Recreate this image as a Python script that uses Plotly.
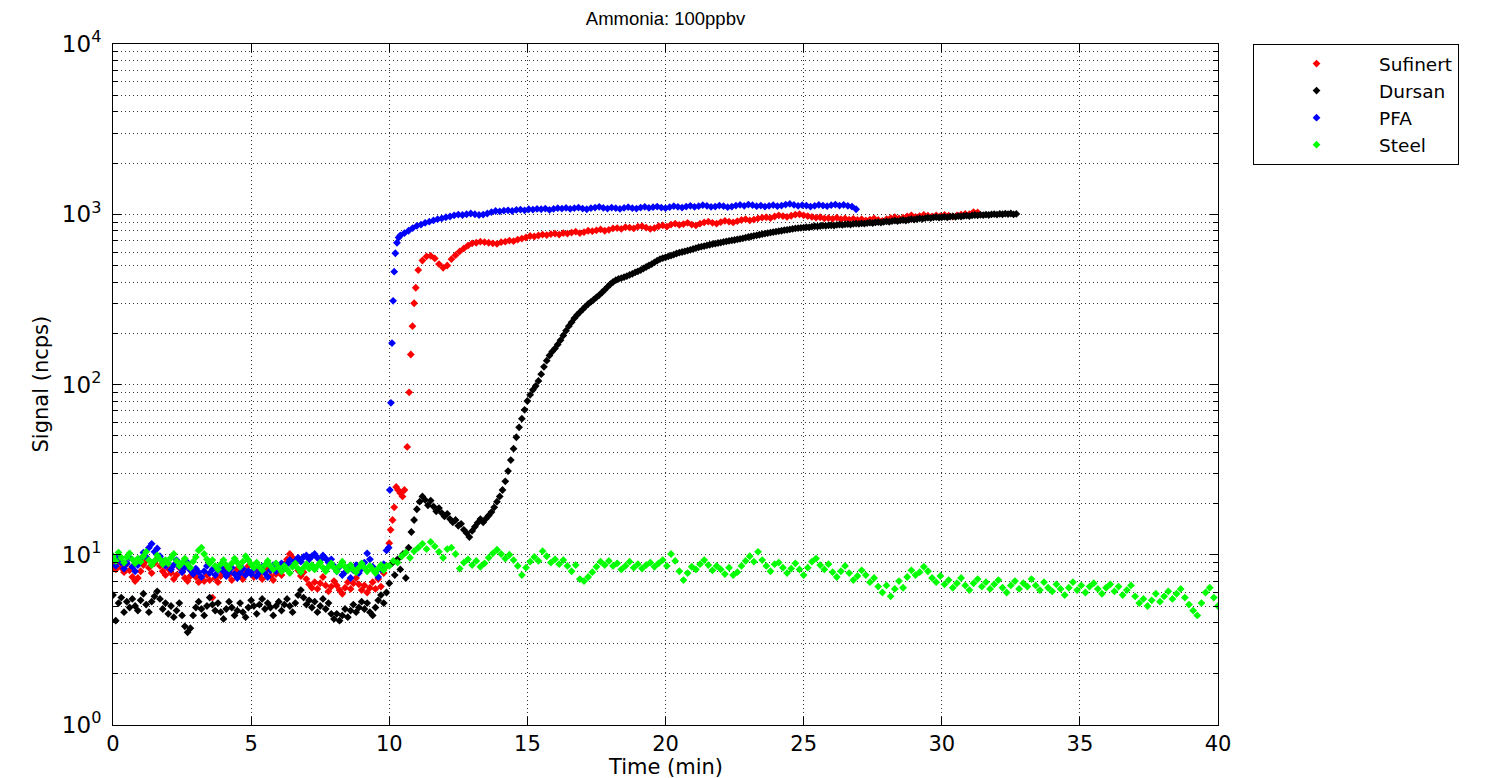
import numpy as np
import plotly.graph_objects as go

# ---------------- data ----------------
BASE_STEP = 0.1  # baseline sampling, t = 0.0 .. 9.9 min

sufinert_base = [
    8.6, 8.2, 9.0, 8.4, 7.9, 8.8, 8.1, 7.4, 7.0, 7.3,
    8.0, 8.7, 9.2, 8.4, 7.8, 8.9, 9.5, 8.6, 8.0, 7.6,
    8.3, 7.8, 7.2, 7.6, 8.4, 7.9, 7.3, 7.0, 7.5, 8.1,
    7.4, 6.9, 7.2, 7.0, 7.6, 7.1, 5.6, 7.3, 6.9, 7.5,
    7.9, 8.4, 7.6, 7.1, 7.8, 8.3, 7.6, 7.2, 8.0, 8.6,
    7.8, 7.4, 8.1, 7.6, 7.2, 7.9, 8.3, 7.5, 7.1, 7.7,
    8.2, 7.6, 8.8, 9.4, 10.1, 9.6, 8.9, 8.1, 7.5, 7.9,
    7.2, 6.7, 6.4, 6.9, 6.3, 6.8, 7.4, 6.6, 6.1, 6.5,
    7.0, 6.6, 6.2, 5.9, 6.4, 6.9, 6.3, 6.8, 7.3, 6.7,
    6.2, 6.6, 6.0, 6.4, 6.9, 6.3, 7.2, 6.5, 7.8, 8.6]
sufinert_rise_t = [10.0, 10.05, 10.12, 10.18, 10.25, 10.32, 10.4, 10.48, 10.55,
                   10.65, 10.72, 10.78, 10.84, 10.9, 10.96]
sufinert_rise_v = [11.7, 14, 16, 19, 25, 24, 23, 22, 24, 43, 90, 150, 220, 300, 370]
sufinert_tail_start, sufinert_tail_step = 11.05, 0.15
sufinert_tail = [
    470, 535, 565, 570, 550, 510, 485, 500, 545, 575,
    605, 630, 655, 675, 680, 690, 685, 680, 675, 670,
    685, 690, 700, 695, 710, 720, 730, 745, 740, 750,
    760, 755, 765, 770, 760, 775, 770, 780, 790, 775,
    785, 800, 795, 805, 815, 800, 810, 825, 830, 820,
    840, 835, 825, 845, 850, 835, 820, 830, 850, 860,
    845, 870, 880, 865, 875, 890, 870, 860, 880, 895,
    905, 890, 880, 900, 915, 905, 895, 910, 925, 935,
    920, 930, 945, 955, 960, 950, 970, 985, 975, 965,
    980, 995, 1000, 985, 975, 965, 955, 960, 945, 950,
    940, 955, 935, 945, 930, 940, 925, 935, 920, 930,
    945, 925, 915, 935, 950, 960, 945, 955, 970, 985,
    965, 975, 990, 980, 970, 985, 975, 990, 980, 970,
    985, 995, 1005, 1000, 1030, 1025]

dursan_base = [
    5.8, 4.1, 5.2, 5.6, 4.6, 5.3, 4.9, 5.5, 5.0, 4.7,
    5.4, 5.9, 5.1, 4.6, 5.3, 5.7, 6.1, 5.5, 4.8, 5.2,
    4.5, 5.0, 4.3, 4.7, 5.2, 4.4, 3.8, 3.5, 3.7, 4.4,
    4.9, 5.3, 4.8, 4.4, 5.0, 5.6, 5.1, 4.7, 5.2, 4.6,
    4.2, 4.8, 5.3, 4.9, 4.4, 4.7, 5.2, 4.6, 4.3, 4.9,
    5.4, 5.0, 4.5, 5.1, 5.5, 4.8, 5.2, 4.9, 4.4, 5.0,
    5.3, 4.7, 5.1, 5.5, 5.0, 4.6, 5.2, 5.8, 6.2, 5.6,
    5.1, 5.4, 4.9, 5.3, 4.6, 5.0, 5.5, 4.8, 5.2, 4.5,
    4.2, 4.5, 4.1, 4.4, 4.8, 4.3, 4.7, 5.1, 4.6, 4.9,
    5.3, 4.8, 5.2, 4.6, 4.4, 4.9, 5.4, 5.8, 5.2, 6.0]
dursan_tail_start, dursan_tail_step = 10.0, 0.1
dursan_tail = [
    6.8, 8.9, 7.6, 9.4, 8.2, 10.1, 7.3, 11.0, 13.6, 16.0,
    18.5, 20.5, 22.0, 21.0, 19.5, 20.8, 19.2, 18.0, 18.8, 17.6,
    16.8, 17.4, 16.2, 15.5, 16.0, 14.8, 15.2, 14.0, 13.4, 12.7,
    13.8, 14.6, 15.4, 16.2, 15.5, 16.3, 17.0, 17.8, 19.0, 20.5,
    22, 24, 27, 31, 36, 42, 49, 56, 63, 71,
    80, 87, 93, 98, 105, 115, 127, 138, 148, 156,
    163, 172, 182, 194, 207, 220, 232, 245, 256, 266,
    276, 287, 297, 306, 315, 325, 335, 347, 360, 374,
    388, 400, 410, 417, 421, 427, 433, 440, 447, 455,
    462, 470, 480, 490, 500, 510, 522, 534, 545, 552,
    558, 565, 572, 580, 588, 595, 600, 606, 612, 618,
    625, 632, 640, 645, 650, 656, 662, 668, 672, 678,
    682, 688, 692, 698, 702, 706, 712, 716, 722, 728,
    735, 740, 746, 752, 758, 764, 770, 775, 780, 786,
    790, 795, 800, 806, 810, 815, 820, 825, 828, 832,
    835, 840, 838, 845, 850, 848, 853, 858, 855, 860,
    862, 858, 865, 870, 866, 872, 875, 870, 878, 882,
    878, 885, 880, 888, 892, 886, 895, 900, 894, 902,
    908, 903, 912, 918, 910, 920, 925, 918, 928, 935,
    930, 938, 945, 940, 948, 955, 950, 958, 962, 956,
    960, 965, 958, 968, 972, 966, 975, 970, 978, 982,
    975, 984, 990, 985, 992, 988, 995, 990, 998, 1002,
    995, 1005, 1000, 1008, 1003, 1010, 998, 1005]

pfa_base = [
    9.4, 8.6, 9.8, 9.0, 8.3, 8.9, 9.6, 8.5, 8.0, 8.7,
    9.5, 10.3, 9.7, 11.0, 11.6, 10.4, 10.9, 9.8, 9.2, 8.6,
    8.9, 8.2, 8.7, 9.3, 8.5, 7.9, 8.4, 9.0, 8.1, 7.7,
    8.3, 7.9, 7.4, 8.0, 8.6, 7.8, 8.2, 7.6, 8.1, 8.5,
    8.0, 7.5, 7.9, 8.4, 7.7, 7.3, 7.8, 8.3, 7.6, 8.0,
    7.7, 8.2, 7.5, 7.9, 8.5, 7.8, 7.4, 8.1, 8.7, 8.0,
    8.4, 8.9, 8.3, 8.8, 9.3, 8.7, 9.2, 9.6, 9.1, 9.7,
    9.9, 9.4, 9.8, 10.1, 9.6, 9.3, 9.9, 9.5, 9.0, 9.4,
    8.6, 8.0, 8.5, 7.6, 7.9, 8.4, 7.3, 8.1, 8.7, 7.8,
    8.3, 9.0, 10.2, 9.4, 8.5, 7.9, 7.4, 8.2, 8.8, 10.6]
pfa_rise_t = [9.98, 10.02, 10.06, 10.1, 10.14, 10.18, 10.22, 10.28, 10.34]
pfa_rise_v = [11, 24, 78, 175, 310, 460, 590, 680, 730]
pfa_tail_start, pfa_tail_step = 10.4, 0.15
pfa_tail = [
    750, 775, 800, 830, 855, 870, 890, 905, 920, 935,
    945, 960, 970, 985, 995, 990, 1000, 1010, 1000, 990,
    995, 1010, 1030, 1045, 1040, 1050, 1055, 1045, 1060, 1065,
    1055, 1070, 1065, 1075, 1070, 1080, 1060, 1075, 1085, 1080,
    1090, 1075, 1085, 1095, 1080, 1070, 1085, 1095, 1105, 1090,
    1080, 1095, 1085, 1075, 1090, 1100, 1085, 1080, 1095, 1105,
    1090, 1100, 1110, 1095, 1085, 1100, 1115, 1105, 1095, 1110,
    1120, 1105, 1115, 1130, 1120, 1105, 1110, 1125, 1115, 1100,
    1110, 1125, 1135, 1120, 1140, 1130, 1115, 1125, 1110, 1120,
    1130, 1115, 1125, 1140, 1150, 1135, 1120, 1130, 1125, 1110,
    1120, 1135, 1125, 1115, 1130, 1140, 1125, 1135, 1120, 1110, 1070]

steel_base = [
    9.8, 9.2, 10.3, 9.6, 9.0, 9.7, 10.2, 9.4, 8.9, 9.5,
    9.1, 9.8, 10.4, 9.3, 8.7, 9.2, 9.9, 9.4, 8.8, 9.3,
    8.9, 9.6, 10.1, 9.2, 8.6, 9.0, 9.5, 8.8, 8.4, 9.1,
    9.7, 10.6, 11.0, 10.1, 9.4, 8.9, 9.3, 8.6, 8.2, 8.8,
    9.3, 8.7, 8.3, 8.9, 9.5, 9.0, 8.5, 9.1, 9.8, 9.3,
    8.8, 8.4, 9.0, 8.5, 8.1, 8.7, 9.2, 8.6, 8.2, 8.9,
    8.4, 8.0, 8.6, 8.2, 7.8, 8.5, 8.9, 8.3, 7.9, 8.4,
    8.8, 8.3, 8.7, 8.2, 8.6, 9.0, 8.4, 8.0, 8.5, 8.9,
    8.4, 8.0, 8.6, 9.1, 8.5, 8.1, 8.7, 8.2, 7.9, 8.4,
    8.9, 8.4, 8.0, 8.6, 8.2, 7.8, 8.3, 8.7, 8.1, 8.6]
steel_tail_start, steel_tail_step = 10.0, 0.15
steel_tail = [
    8.6, 9.2, 9.0, 9.8, 10.3, 9.6, 10.5, 11.0, 11.6, 10.8,
    11.9, 11.2, 10.4, 9.6, 10.8, 11.0, 10.1, 8.3, 9.0, 9.4,
    8.7, 9.2, 8.5, 8.9, 9.6, 10.2, 10.7, 10.1, 9.5, 10.0,
    9.3, 8.6, 7.6, 8.4, 9.1, 9.7, 9.2, 10.5, 9.8, 9.0,
    9.4, 8.8, 9.3, 8.6, 8.0, 8.7, 7.2, 7.0, 7.4, 7.9,
    8.5, 9.1, 8.7, 9.2, 8.6, 8.9, 8.2, 8.6, 9.1, 8.4,
    8.8, 8.3, 8.7, 9.0, 8.5, 8.9, 9.3, 8.6, 10.1, 9.2,
    8.0, 7.1, 7.8, 8.5, 8.2, 8.8, 9.3, 8.7, 8.1, 8.6,
    8.2, 7.7, 8.4, 7.6, 7.9, 8.6, 9.2, 9.8, 9.1, 10.4,
    9.3, 8.6, 8.0, 8.8, 9.0, 8.4, 7.8, 8.3, 8.9, 8.2,
    7.6, 8.4, 9.1, 9.5, 8.7, 8.2, 8.8, 7.9, 7.4, 8.0,
    8.6, 7.8, 7.1, 7.5, 8.1, 7.6, 6.9, 7.3, 6.5, 6.0,
    6.6, 5.7, 6.3, 7.0, 6.4, 7.4, 8.1, 7.6, 7.9, 8.5,
    8.0, 7.3, 6.9, 7.5, 6.7, 7.1, 6.4, 6.8, 7.3, 6.6,
    6.2, 6.8, 7.2, 6.5, 6.9, 6.3, 6.7, 7.1, 6.4, 6.0,
    6.6, 7.0, 6.3, 6.8, 6.5, 7.2, 6.6, 6.2, 6.9, 6.4,
    6.1, 6.7, 6.3, 5.8, 6.4, 6.9, 6.2, 6.6, 6.0, 6.5,
    6.8, 6.3, 5.9, 6.4, 6.7, 6.1, 6.5, 5.8, 6.2, 6.6,
    5.7, 5.2, 5.5, 5.0, 5.4, 5.9, 5.3, 5.7, 6.1, 5.5,
    5.9, 6.3, 5.6, 5.1, 4.7, 4.4, 5.2, 6.0, 6.4, 5.6,
    5.0]

series_names = ["Sufinert", "Dursan", "PFA", "Steel"]
series_colors = ["#ff0000", "#000000", "#0000ff", "#00ff00"]

y_tick_vals = [1, 10, 100, 1000, 10000]
y_tick_text = ["10<sup>0</sup>", "10<sup>1</sup>", "10<sup>2</sup>", "10<sup>3</sup>", "10<sup>4</sup>"]
x_tick_vals = [0, 5, 10, 15, 20, 25, 30, 35, 40]
x_title = "Time (min)"
y_title = "Signal (ncps)"
chart_title = "Ammonia: 100ppbv"


def build(base, rise_t, rise_v, tail_start, tail_step, tail):
    t_base = list(np.round(np.arange(len(base)) * BASE_STEP, 4))
    t_tail = list(np.round(tail_start + np.arange(len(tail)) * tail_step, 4))
    return t_base + list(rise_t) + t_tail, list(base) + list(rise_v) + list(tail)


data = [
    build(sufinert_base, sufinert_rise_t, sufinert_rise_v,
          sufinert_tail_start, sufinert_tail_step, sufinert_tail),
    build(dursan_base, [], [], dursan_tail_start, dursan_tail_step, dursan_tail),
    build(pfa_base, pfa_rise_t, pfa_rise_v, pfa_tail_start, pfa_tail_step, pfa_tail),
    build(steel_base, [], [], steel_tail_start, steel_tail_step, steel_tail),
]

FONT = "Liberation Sans, Arial, sans-serif"
WIDE = "DejaVu Sans, Verdana, sans-serif"

fig = go.Figure()
for name, color, (t, v) in zip(series_names, series_colors, data):
    fig.add_trace(go.Scatter(
        x=t, y=v, mode="markers", name=name,
        marker=dict(symbol="diamond", size=6, color=color, line=dict(width=0)),
    ))

minor_vals = [m * 10 ** k for k in range(0, 4) for m in range(2, 10)]

# The page body has an 8px default margin; the figure is sized to fit the window.
FIG_W, FIG_H = 1482, 770
M_L, M_R, M_T, M_B = 105, 272, 36, 53
plot_w = FIG_W - M_L - M_R
plot_h = FIG_H - M_T - M_B

fig.update_layout(
    width=FIG_W, height=FIG_H,
    margin=dict(l=M_L, r=M_R, t=M_T, b=M_B),
    paper_bgcolor="white", plot_bgcolor="white",
    font=dict(family=FONT, color="black"),
    title=dict(text=chart_title, x=0.5, xref="paper", xanchor="center",
               y=1 - 11 / FIG_H, yanchor="middle", font=dict(size=18.5, family=FONT)),
    showlegend=True,
    legend=dict(x=1.0317, xanchor="left", y=1.0, yanchor="top",
                bordercolor="black", borderwidth=1, bgcolor="white",
                font=dict(size=18.5, family=WIDE), itemwidth=115,
                tracegroupgap=0),
    annotations=[
        dict(text=x_title, xref="paper", yref="paper", x=0.5, y=-42 / plot_h,
             xanchor="center", yanchor="middle", showarrow=False,
             font=dict(size=21, family=WIDE)),
        dict(text=y_title, xref="paper", yref="paper", x=-73 / plot_w, y=0.5,
             xanchor="center", yanchor="middle", textangle=-90, showarrow=False,
             font=dict(size=21, family=WIDE)),
    ],
)

fig.update_xaxes(
    range=[0, 40], tickmode="array", tickvals=x_tick_vals, automargin=False,
    ticks="inside", ticklen=8, tickcolor="black",
    showline=True, linecolor="black", linewidth=1, mirror="allticks",
    showgrid=True, gridcolor="#333333", gridwidth=1, griddash="1px,3px",
    zeroline=False,
    tickfont=dict(size=21, family=WIDE),
)

fig.update_yaxes(
    type="log", range=[0, 4], tickmode="array", tickvals=y_tick_vals, ticktext=y_tick_text,
    automargin=False, ticklabelstandoff=6,
    ticks="inside", ticklen=8, tickcolor="black",
    showline=True, linecolor="black", linewidth=1, mirror="allticks",
    showgrid=True, gridcolor="#333333", gridwidth=1, griddash="1px,3px",
    zeroline=False,
    tickfont=dict(size=23, family=WIDE),
    minor=dict(tickmode="array", tickvals=minor_vals, ticks="inside", ticklen=5,
               tickcolor="black", showgrid=True, gridcolor="#333333", gridwidth=1,
               griddash="1px,3px"),
)

fig.write_html("out.html")
